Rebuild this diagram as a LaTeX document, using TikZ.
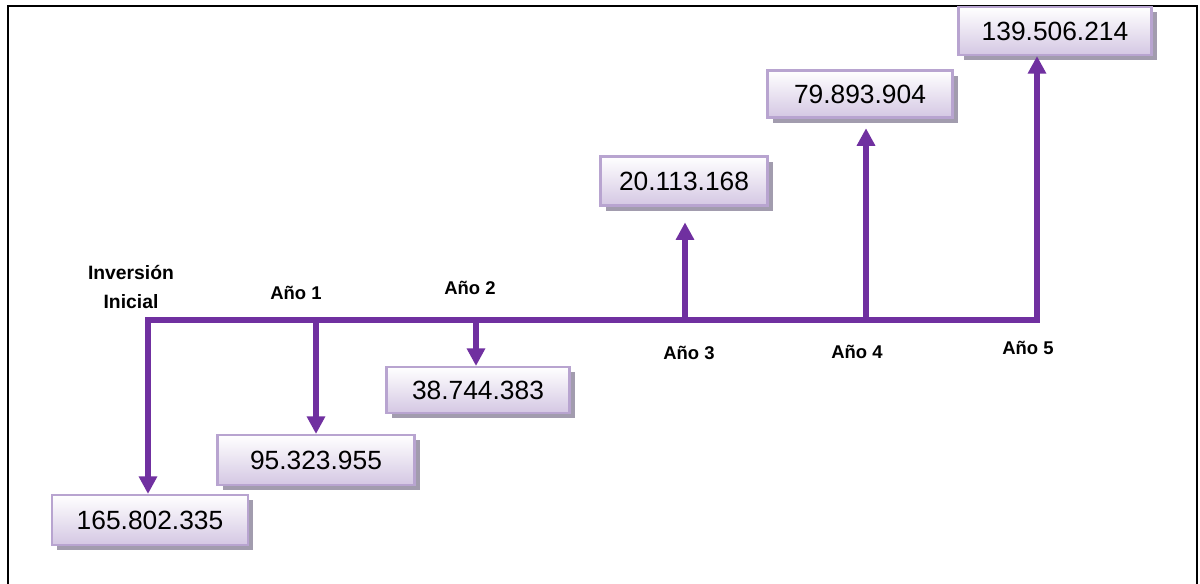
\documentclass[tikz,border=0pt]{standalone}
\usepackage{fontspec}
\setmainfont{Liberation Sans}
\usetikzlibrary{arrows.meta,shadows}

\definecolor{flowpurple}{HTML}{7030A0}
\definecolor{boxedge}{HTML}{B8A4D0}
\definecolor{boxfill}{HTML}{D4C7E3}
\definecolor{boxshadow}{HTML}{A29CAE}

\begin{document}
\begin{tikzpicture}[x=0.02cm,y=-0.02cm, % one unit = one pixel of the sketch
    flow/.style={flowpurple, line width=3pt, -{Triangle[width=10pt,length=10pt]}},
    amount/.style={draw=boxedge, line width=1.2pt, top color=white, bottom color=boxfill,
        drop shadow={shadow xshift=3pt, shadow yshift=-3pt, fill=boxshadow, opacity=1},
        inner sep=0pt, font=\fontsize{15}{18}\selectfont},
    year/.style={font=\bfseries\fontsize{10.5}{12.6}\selectfont, align=center}]
    \useasboundingbox (0,0) rectangle (1200,583);
    % Frame around the sketch (open at the bottom)
    \draw[line width=1.2pt] (8,600) -- (8,6) -- (1197,6) -- (1197,600);

    % Points on the time line
    \coordinate (t0) at (148,320);
    \coordinate (t1) at (316,320);
    \coordinate (t2) at (476,320);
    \coordinate (t3) at (685,320);
    \coordinate (t4) at (866,320);
    \coordinate (t5) at (1037,320);

    % Cash flow boxes
    \node[amount, minimum width=3.92cm, minimum height=1.0cm] (b0) at (150,520) {165.802.335};
    \node[amount, minimum width=3.94cm, minimum height=1.0cm] (b1) at (316,460) {95.323.955};
    \node[amount, minimum width=3.66cm, minimum height=0.92cm] (b2) at (478,390) {38.744.383};
    \node[amount, minimum width=3.34cm, minimum height=0.98cm] (b3) at (684,181) {20.113.168};
    \node[amount, minimum width=3.70cm, minimum height=0.94cm] (b4) at (860,94) {79.893.904};
    \node[amount, minimum width=3.86cm, minimum height=0.96cm] (b5) at (1055,31) {139.506.214};

    % Year labels
    \node[year, font=\bfseries\fontsize{11}{13}\selectfont] (y0) at (131,287) {Inversión\\[3pt]Inicial};
    \node[year] (y1) at (296,293) {Año 1};
    \node[year] (y2) at (470,288) {Año 2};
    \node[year] (y3) at (689,353) {Año 3};
    \node[year] (y4) at (857,352) {Año 4};
    \node[year] (y5) at (1028,348) {Año 5};

    % Time line and the flows
    \draw[flowpurple, line width=3pt, line cap=rect] (t0) -- (t5);
    \draw[flow] (t0) -- (t0 |- b0.north);
    \draw[flow] (t1) -- (t1 |- b1.north);
    \draw[flow] (t2) -- (t2 |- b2.north);
    \draw[flow] (t3) -- ([yshift=-9pt]t3 |- b3.south);
    \draw[flow] (t4) -- ([yshift=-5.5pt]t4 |- b4.south);
    \draw[flow] (t5) -- (t5 |- b5.south);
\end{tikzpicture}
\end{document}
